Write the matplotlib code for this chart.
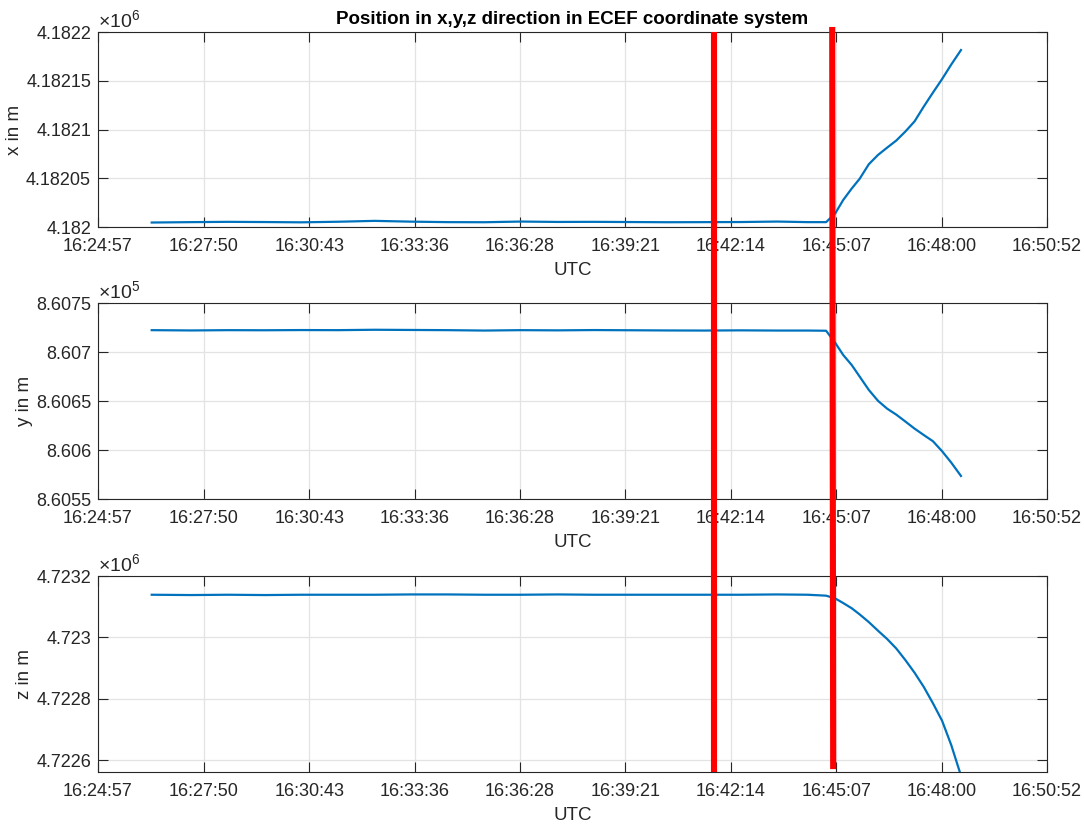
import matplotlib
matplotlib.use("Agg")
import matplotlib.pyplot as plt
import matplotlib.dates as mdates
import matplotlib.transforms as mtransforms
import pandas as pd

plt.rcParams['font.family'] = ['Liberation Sans', 'DejaVu Sans']
plt.rcParams['mathtext.fontset'] = 'custom'
plt.rcParams['mathtext.rm'] = 'Liberation Sans'

# time stamps (UTC) of the samples
times = ['16:26:25', '16:27:30', '16:28:30', '16:29:30', '16:30:30', '16:31:30', '16:32:30',
         '16:33:30', '16:34:30', '16:35:30', '16:36:30', '16:37:30', '16:38:30', '16:39:30',
         '16:40:30', '16:41:30', '16:42:30', '16:43:30', '16:44:20', '16:44:50', '16:45:05',
         '16:45:18', '16:45:32', '16:45:45', '16:46:00', '16:46:15', '16:46:30', '16:46:45',
         '16:47:00', '16:47:15', '16:47:30', '16:47:45', '16:48:00', '16:48:15', '16:48:31']

# ECEF positions in m
pos_x = [4182004.6, 4182005.0, 4182005.3, 4182005.1, 4182004.8, 4182005.4, 4182006.3,
         4182005.5, 4182005.0, 4182004.9, 4182005.6, 4182005.2, 4182005.3, 4182005.1,
         4182004.9, 4182005.0, 4182005.1, 4182005.6, 4182005.0, 4182005.0, 4182014.0,
         4182027.7, 4182039.5, 4182049.5, 4182064.4, 4182073.9, 4182081.4, 4182088.7,
         4182098.0, 4182108.4, 4182123.5, 4182137.8, 4182151.7, 4182166.6, 4182181.5]
pos_y = [860722.3, 860722.0, 860722.3, 860722.2, 860722.4, 860722.3, 860722.7,
         860722.5, 860722.3, 860721.9, 860722.3, 860722.1, 860722.4, 860722.2,
         860722.0, 860721.9, 860722.1, 860721.9, 860721.9, 860721.7, 860709.3,
         860697.0, 860686.7, 860674.9, 860661.3, 860650.2, 860642.2, 860636.1,
         860629.0, 860621.8, 860615.3, 860609.0, 860598.8, 860587.2, 860573.5]
pos_z = [4723139, 4723138, 4723139, 4723138, 4723139, 4723139, 4723139,
         4723140, 4723140, 4723139, 4723139, 4723140, 4723139, 4723139,
         4723139, 4723139, 4723139, 4723140, 4723139, 4723136, 4723127,
         4723112, 4723095, 4723075, 4723050, 4723022, 4722995, 4722964,
         4722926, 4722885, 4722839, 4722786, 4722729, 4722650, 4722550]

x_ticks = ['16:24:57', '16:27:50', '16:30:43', '16:33:36', '16:36:28',
           '16:39:21', '16:42:14', '16:45:07', '16:48:00', '16:50:52']
# red markers
events = ['16:41:46', '16:45:00']

day = '2020-01-01 '
t = pd.to_datetime([day + s for s in times])
tick_pos = pd.to_datetime([day + s for s in x_ticks])
ev = pd.to_datetime([day + s for s in events])

panels = [
    (pos_x, 'x in m', 1e6, 6, (4.182e6, 4.1822e6), [4.182e6, 4.18205e6, 4.1821e6, 4.18215e6, 4.1822e6]),
    (pos_y, 'y in m', 1e5, 5, (8.6055e5, 8.6075e5), [8.6055e5, 8.606e5, 8.6065e5, 8.607e5, 8.6075e5]),
    (pos_z, 'z in m', 1e6, 6, (4.722562e6, 4.7232e6), [4.7226e6, 4.7228e6, 4.723e6, 4.7232e6]),
]

fig = plt.figure(figsize=(10.84, 8.27), dpi=100)
rects = [[0.0904, 0.7255, 0.8755, 0.2358],
         [0.0904, 0.3966, 0.8755, 0.2370],
         [0.0904, 0.0665, 0.8755, 0.2370]]
dark = '#262626'
axes = []
for (vals, lab, scale, expo, ylim, yt), r in zip(panels, rects):
    ax = fig.add_axes(r)
    ax.plot(t, vals, color='#0072BD', lw=1.6)
    ax.set_xlim(tick_pos[0], tick_pos[-1])
    ax.set_xticks(tick_pos)
    ax.set_xticklabels(x_ticks)
    ax.set_ylim(*ylim)
    ax.set_yticks(yt)
    ax.set_yticklabels(['%g' % (v / scale) for v in yt])
    ax.grid(True, color='#e3e3e3', lw=0.9)
    ax.set_axisbelow(True)
    ax.tick_params(direction='in', top=True, right=True, length=7, width=0.8,
                   labelsize=13, colors=dark)
    ax.tick_params(axis='x', pad=8)
    ax.tick_params(axis='y', pad=5)
    for s in ax.spines.values():
        s.set_color(dark)
        s.set_linewidth(0.8)
    ax.set_xlabel('UTC', fontsize=13.5, color=dark, labelpad=5)
    ax.set_ylabel(lab, fontsize=13.5, color=dark, labelpad=2)
    ax.text(0.0, 1.0, r'$\times10^{%d}$' % expo, transform=ax.transAxes,
            ha='left', va='bottom', fontsize=14, color=dark)
    axes.append(ax)

axes[0].set_title('Position in x,y,z direction in ECEF coordinate system',
                  fontsize=13.5, fontweight='bold', pad=6)

# red vertical markers across all panels
tr = mtransforms.blended_transform_factory(axes[0].transData, fig.transFigure)
e = mdates.date2num(ev)
fig.add_artist(plt.Line2D([e[0], e[0]], [0.9613, 0.0665], transform=tr,
                          color='red', lw=4.4, solid_capstyle='butt'))
fig.add_artist(plt.Line2D([e[1], e[1] + 1.6 / 86400], [0.9674, 0.0700], transform=tr,
                          color='red', lw=4.4, solid_capstyle='butt'))

fig.savefig('out.png', dpi=100)
